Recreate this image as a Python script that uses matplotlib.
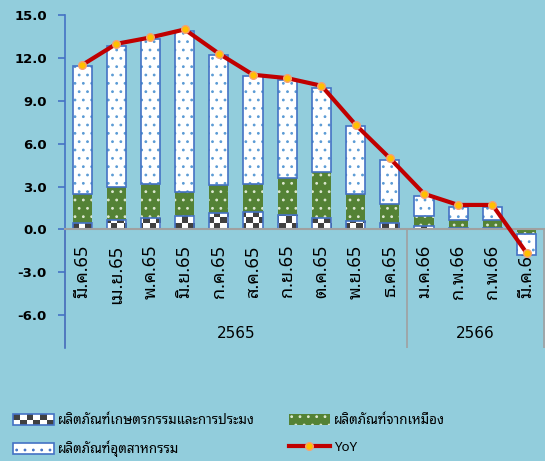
import numpy as np
import matplotlib
matplotlib.use("Agg")
import matplotlib.pyplot as plt
from matplotlib.colors import ListedColormap
from matplotlib.patches import Patch, Rectangle
from matplotlib.lines import Line2D
from matplotlib.legend_handler import HandlerBase

# ข้อมูล (อ่านจากภาพ)
months = ["มี.ค.65", "เม.ย.65", "พ.ค.65", "มิ.ย.65", "ก.ค.65", "ส.ค.65", "ก.ย.65",
          "ต.ค.65", "พ.ย.65", "ธ.ค.65", "ม.ค.66", "ก.พ.66", "ก.พ.66", "มี.ค.66"]
years = ["2565", "2566"]
year_first = [0, 10]
year_last = [9, 13]
agri = [0.44, 0.68, 0.80, 0.92, 1.15, 1.22, 0.99, 0.80, 0.56, 0.44, 0.21, 0.10, 0.10, 0.05]
mining = [2.05, 2.28, 2.35, 1.68, 1.93, 1.93, 2.62, 3.21, 1.93, 1.37, 0.71, 0.58, 0.58, -0.30]
industry = [8.91, 9.88, 10.14, 11.27, 9.10, 7.55, 6.81, 5.89, 4.71, 3.05, 1.45, 0.87, 0.90, -1.50]
yoy = [11.50, 12.98, 13.43, 13.99, 12.30, 10.82, 10.58, 10.05, 7.32, 4.98, 2.49, 1.71, 1.71, -1.65]
yticks = [-6.0, -3.0, 0.0, 3.0, 6.0, 9.0, 12.0, 15.0]

lbl_agri = "ผลิตภัณฑ์เกษตรกรรมและการประมง"
lbl_mining = "ผลิตภัณฑ์จากเหมือง"
lbl_ind = "ผลิตภัณฑ์อุตสาหกรรม"
lbl_yoy = "YoY"

bg = "#92CDDC"
blue = "#4472C4"
dot_blue = "#5B9BD5"
green = "#548235"
red = "#C00000"
grey = "#A0A0A0"
thai = ["Noto Sans Thai Looped", "DejaVu Sans"]
checker_cmap = ListedColormap(["white", "#404040"])

x = np.arange(len(months))
w = 0.56
pos = np.zeros(len(x))
neg = np.zeros(len(x))


def stack(vals):
    # ค่าบวกซ้อนขึ้น ค่าลบซ้อนลงจากศูนย์
    vals = np.asarray(vals, float)
    bottom = np.where(vals >= 0, pos, neg)
    pos[:] += np.where(vals >= 0, vals, 0)
    neg[:] += np.where(vals < 0, vals, 0)
    return bottom


class HandlerChecker(HandlerBase):
    def create_artists(self, legend, orig_handle, xdescent, ydescent,
                       width, height, fontsize, trans):
        arts = []
        nx, ny = 6, 2
        cw, ch = width / nx, height / ny
        for i in range(nx):
            for j in range(ny):
                c = "#404040" if (i + j) % 2 else "white"
                arts.append(Rectangle((-xdescent + i * cw, -ydescent + j * ch), cw, ch,
                                      facecolor=c, edgecolor="none", transform=trans))
        arts.append(Rectangle((-xdescent, -ydescent), width, height, fill=False,
                              edgecolor=blue, lw=1.2, transform=trans))
        return arts


plt.rcParams["hatch.linewidth"] = 0.8
fig = plt.figure(figsize=(5.45, 4.61), dpi=100, facecolor=bg)
ax = fig.add_axes([65 / 545, 1 - 348 / 461, 478.7 / 545, 333 / 461], facecolor=bg)

# เกษตรกรรม: ลายตารางหมากรุก
b_agri = stack(agri)
bars = ax.bar(x, agri, w, bottom=b_agri, color="white", lw=0, zorder=2)
ny, nx = 51, 74
checker = np.indices((ny, nx)).sum(axis=0) % 2
for p in bars:
    im = ax.imshow(checker, cmap=checker_cmap, extent=(0, 1, 0, 1), transform=ax.transAxes,
                   aspect="auto", interpolation="nearest", zorder=2.1)
    im.set_clip_path(p)
ax.bar(x, agri, w, bottom=b_agri, fill=False, edgecolor=blue, lw=1.2, zorder=2.2)

# เหมือง
b_min = stack(mining)
ax.bar(x, mining, w, bottom=b_min, color=green, edgecolor="#DDE8D0", hatch="..", lw=0, zorder=2)

# อุตสาหกรรม
b_ind = stack(industry)
ax.bar(x, industry, w, bottom=b_ind, color="white", edgecolor=dot_blue, hatch="..", lw=0, zorder=2)
ax.bar(x, industry, w, bottom=b_ind, fill=False, edgecolor=blue, lw=1.2, zorder=2.2)

# YoY
ax.plot(x, yoy, color=red, lw=3, marker="o", ms=5.5, mfc="#FFC000", mec="#F8A070",
        mew=1, zorder=4)

ax.set_xlim(-0.5, len(x) - 0.5)
ax.set_ylim(-8.3, 15.0)
ax.set_yticks(yticks)
ax.set_yticklabels([f"{v:.1f}" for v in yticks], fontsize=9.5, fontweight="bold")
ax.tick_params(axis="y", direction="out", length=5, width=1.2, color=blue, pad=8)

ax.spines["bottom"].set_position(("data", 0))
ax.spines["bottom"].set_color(grey)
ax.spines["bottom"].set_linewidth(1.5)
ax.spines["left"].set_color(blue)
ax.spines["left"].set_linewidth(1.2)
ax.spines["top"].set_visible(False)
ax.spines["right"].set_visible(False)
ax.set_xticks(x)
ax.set_xticklabels(months, rotation=90, fontsize=13, family=thai)
ax.tick_params(axis="x", length=0, pad=11)

# แบ่งกลุ่มปี
for first, last, yr in zip(year_first, year_last, years):
    ax.vlines(last + 0.5, -8.3, 0, color=grey, lw=1.2, clip_on=False, zorder=1)
    ax.text((first + last) / 2, -7.3, yr, ha="center", va="center", fontsize=11)
ax.vlines(-0.5, -8.3, 0, color=grey, lw=1.2, clip_on=False, zorder=1)

h_agri = Patch(facecolor="white")
h_min = Patch(facecolor=green, edgecolor="#DDE8D0", hatch="..", lw=0)
h_ind = Patch(facecolor="white", edgecolor=blue, hatch="..", lw=1.2)
h_yoy = Line2D([], [], color=red, lw=3, marker="o", ms=5.5, mfc="#FFC000", mec="#F8A070", mew=1)

leg_kw = dict(loc="upper left", frameon=False, prop={"family": thai, "size": 9.6},
              handlelength=3.05, handleheight=0.9, handletextpad=0.3, labelspacing=1.0,
              borderpad=0, borderaxespad=0, numpoints=1)
fig.legend([h_agri, h_ind], [lbl_agri, lbl_ind], bbox_to_anchor=(13 / 545, 1 - 414 / 461),
           handler_map={h_agri: HandlerChecker()}, **leg_kw)
fig.legend([h_min, h_yoy], [lbl_mining, lbl_yoy], bbox_to_anchor=(289 / 545, 1 - 414 / 461),
           **leg_kw)

fig.savefig("out.png", dpi=100, facecolor=bg)
